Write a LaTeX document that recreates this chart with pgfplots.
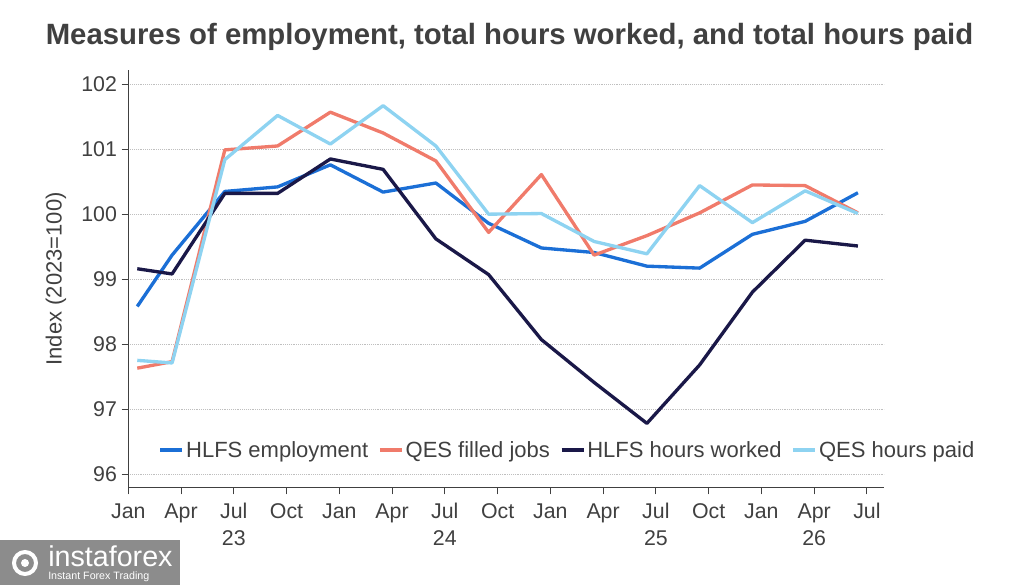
\documentclass[border=0pt]{standalone}
\usepackage{fontspec}
\setmainfont{Liberation Sans}
\usepackage{pgfplots}
\usepackage{pgfplotstable}
\pgfplotsset{compat=1.18}
\definecolor{txt}{HTML}{404040}
\definecolor{cEmp}{HTML}{1B6FD6}
\definecolor{cJobs}{HTML}{F07B6B}
\definecolor{cHrs}{HTML}{1A1848}
\definecolor{cPaid}{HTML}{8ED3F1}
\definecolor{wm}{HTML}{8C8C8C}

\pgfplotstableread{
x emp jobs hrs paid
0.17 98.58 97.63 99.16 97.75
0.83 99.37 97.73 99.08 97.71
1.83 100.35 100.99 100.32 100.84
2.83 100.42 101.05 100.32 101.52
3.83 100.76 101.57 100.85 101.08
4.83 100.34 101.25 100.69 101.67
5.83 100.48 100.82 99.62 101.05
6.83 99.86 99.72 99.07 100.00
7.83 99.48 100.61 98.07 100.01
8.83 99.41 99.37 97.41 99.58
9.83 99.20 99.67 96.78 99.39
10.83 99.17 100.02 97.68 100.44
11.83 99.69 100.45 98.80 99.87
12.83 99.89 100.44 99.60 100.36
13.83 100.33 100.02 99.51 100.01
}\data

\begin{document}
\begin{tikzpicture}[x=0.75pt,y=0.75pt]
\useasboundingbox (0,0) rectangle (1029,585);
\node[anchor=base, font=\bfseries\fontsize{22}{26}\selectfont, text=txt] at (509.5,540) {Measures of employment, total hours worked, and total hours paid};
\begin{axis}[
  at={(96.225pt,72.975pt)}, anchor=south west,
  scale only axis, width=567pt, height=313.3pt,
  xmin=0, xmax=14.33, ymin=95.79, ymax=102.22,
  axis x line=bottom, axis y line=left,
  axis line style={-, draw=txt, line width=0.8pt},
  tick align=outside, major tick length=5pt,
  tick style={draw=txt, line width=0.8pt},
  xtick={0,...,14},
  xticklabels={\strut Jan,\strut Apr,{\strut Jul\\23},\strut Oct,\strut Jan,\strut Apr,{\strut Jul\\24},\strut Oct,\strut Jan,\strut Apr,{\strut Jul\\25},\strut Oct,\strut Jan,{\strut Apr\\26},\strut Jul},
  xticklabel style={align=center, font=\fontsize{16}{20.5}\selectfont, text=txt},
  ytick={96,97,...,102},
  yticklabel style={font=\fontsize{16}{20}\selectfont, text=txt},
  /pgf/number format/assume math mode=true,
  ymajorgrids, grid style={densely dotted, gray!50, line width=0.7pt},
  ylabel={Index (2023=100)},
  ylabel style={at={(axis description cs:-0.0956,0.5)}, anchor=center, font=\fontsize{16.5}{20}\selectfont, text=txt},
  legend style={at={(axis description cs:0.04,0.09)}, anchor=west, legend columns=-1, draw=none, fill=none,
    font=\fontsize{16.5}{20}\selectfont, text=txt, inner sep=0pt,
    /tikz/every even column/.append style={column sep=6pt},
    nodes={inner sep=1.5pt}},
  legend image code/.code={\draw[#1] (0pt,0pt) -- (16.5pt,0pt);},
  every axis plot/.append style={line width=2.5pt, line join=round},
]
\addplot[cEmp] table[x=x,y=emp]{\data};
\addlegendentry{HLFS employment}
\addplot[cJobs] table[x=x,y=jobs]{\data};
\addlegendentry{QES filled jobs}
\addplot[cHrs] table[x=x,y=hrs]{\data};
\addlegendentry{HLFS hours worked}
\addplot[cPaid] table[x=x,y=paid]{\data};
\addlegendentry{QES hours paid}
\end{axis}
\fill[wm] (0,0) rectangle (180,45);
\draw[white, line width=3pt] (25,22) circle (11);
\fill[white] (25,22) circle (4);
\node[anchor=base west, inner sep=0pt, text=white, font=\fontsize{21.5}{22}\selectfont] at (48,18.3) {instaforex};
\node[anchor=base west, inner sep=0pt, text=white, font=\fontsize{8}{9}\selectfont] at (48,5.7) {Instant Forex Trading};
\end{tikzpicture}
\end{document}
